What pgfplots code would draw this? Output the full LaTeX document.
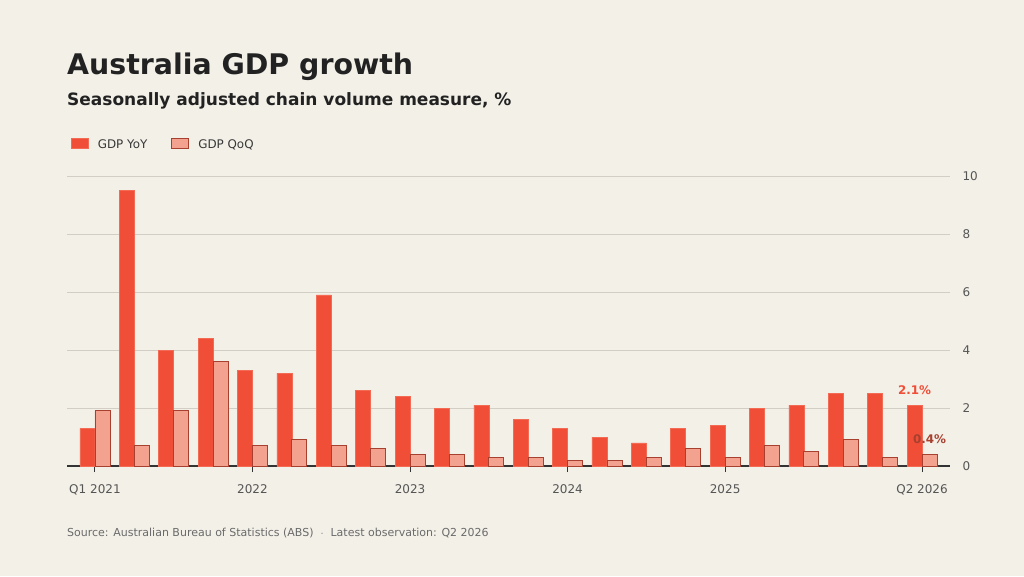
\documentclass[border=0pt]{standalone}
\usepackage{pgfplots}
\pgfplotsset{compat=1.18}
\usepackage{pgfplotstable}
\usepackage{fontspec}
\setmainfont{DejaVu Sans}
\definecolor{bg}{HTML}{F3F0E8}
\definecolor{yoy}{HTML}{F04E37}
\definecolor{yoyedge}{HTML}{F36A55}
\definecolor{qoq}{HTML}{F4A290}
\definecolor{qoqedge}{HTML}{A8402F}
\definecolor{gridc}{HTML}{D2CEC6}
\definecolor{titlec}{HTML}{222222}
\definecolor{tickc}{HTML}{555555}
\definecolor{srcc}{HTML}{6A6A6A}
\definecolor{lab21}{HTML}{F04E37}
\definecolor{lab04}{HTML}{A8402F}

\pgfplotstableread{
x yoy qoq
0 1.3 1.9
1 9.5 0.7
2 4.0 1.9
3 4.4 3.6
4 3.3 0.7
5 3.2 0.9
6 5.9 0.7
7 2.6 0.6
8 2.4 0.4
9 2.0 0.4
10 2.1 0.3
11 1.6 0.3
12 1.3 0.2
13 1.0 0.2
14 0.8 0.3
15 1.3 0.6
16 1.4 0.3
17 2.0 0.7
18 2.1 0.5
19 2.5 0.9
20 2.5 0.3
21 2.1 0.4
}\gdpdata

\begin{document}
\begin{tikzpicture}
\path[use as bounding box, fill=bg] (0pt,0pt) rectangle (1024pt,576pt);
\node[anchor=base west, inner sep=0pt, text=titlec, font=\fontsize{28.4pt}{32pt}\selectfont\bfseries] at (67pt,501pt) {Australia GDP growth};
\node[anchor=base west, inner sep=0pt, text=titlec, font=\fontsize{17pt}{20pt}\selectfont\bfseries] at (67pt,470pt) {Seasonally adjusted chain volume measure, \%};
\node[anchor=base west, inner sep=0pt, text=srcc, font=\fontsize{11pt}{13pt}\selectfont] at (67pt,40pt) {Source: Australian Bureau of Statistics (ABS)\ \ $\cdot$\ \ Latest observation: Q2 2026};
\begin{axis}[
  at={(67pt,110pt)}, anchor=south west,
  scale only axis, width=883pt, height=290pt,
  xmin=-0.71, xmax=21.71, ymin=0, ymax=10,
  ybar=0pt, bar width=15pt,
  axis x line*=bottom, axis y line*=right,
  x axis line style={-, draw=black!80, line width=1.2pt},
  y axis line style={draw=none},
  xtick={0,4,8,12,16,21},
  xticklabels={Q1 2021,2022,2023,2024,2025,Q2 2026},
  ytick={0,2,4,6,8,10},
  ymajorgrids, grid style={color=gridc, line width=0.9pt},
  ytick style={draw=none},
  xtick style={draw=black!80, line width=1pt},
  tick align=outside, major tick length=6pt,
  tick label style={text=tickc, font=\fontsize{12pt}{14pt}\selectfont},
  /pgf/number format/assume math mode=true,
  yticklabel pos=right,
  yticklabel style={anchor=west, xshift=3pt},
  xticklabel style={yshift=-9pt},
  legend columns=2,
  legend style={at={(0,1)}, anchor=south west, xshift=4pt, yshift=24pt,
    draw=none, fill=none, inner sep=0pt,
    font=\fontsize{11.9pt}{14pt}\selectfont, text=titlec!90,
    /tikz/every odd column/.append style={column sep=7pt},
    /tikz/every even column/.append style={column sep=22pt}},
  legend image code/.code={\draw[#1] (0pt,-4pt) rectangle (17pt,6pt);},
  clip=false,
]
\addplot[fill=yoy, draw=yoyedge, line width=0.6pt] table[x=x, y=yoy] {\gdpdata};
\addlegendentry{GDP YoY}
\addplot[fill=qoq, draw=qoqedge, line width=0.9pt] table[x=x, y=qoq] {\gdpdata};
\addlegendentry{GDP QoQ}
\node[anchor=south, text=lab21, font=\fontsize{11.9pt}{14pt}\selectfont\bfseries, yshift=7pt] at (axis cs:20.81,2.1) {2.1\%};
\node[anchor=south, text=lab04, font=\fontsize{11.9pt}{14pt}\selectfont\bfseries, yshift=7pt] at (axis cs:21.19,0.4) {0.4\%};
\end{axis}
\end{tikzpicture}
\end{document}
